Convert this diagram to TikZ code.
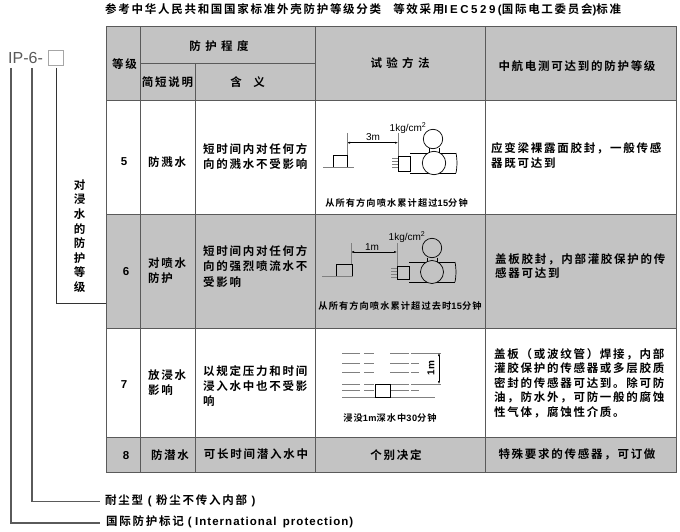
\documentclass[tikz,border=0pt]{standalone}
\usepackage{fontspec}
\setmainfont{Liberation Sans}
\newfontfamily\cjk{Noto Sans CJK SC}[BoldFont={* Bold}]
\newfontfamily\lat{Liberation Sans}
\usetikzlibrary{arrows.meta}
\definecolor{hdr}{HTML}{C3C3C3}
\definecolor{rulec}{HTML}{5A5A5A}
\newcommand{\zh}{\cjk\bfseries\addfontfeature{LetterSpace=15}}
\newcommand{\zhs}{\cjk\bfseries\addfontfeature{LetterSpace=12}}
\newcommand{\la}[2][5]{{\lat\bfseries\addfontfeature{LetterSpace=#1}#2}}
\tikzset{
  x=1pt,y=-1pt,
  cell/.style={inner sep=0pt,font=\fontsize{11.5pt}{15.5pt}\selectfont\zh,text=black,align=center},
  para/.style={inner sep=0pt,font=\fontsize{11.5pt}{15.3pt}\selectfont\zh,text=black,align=left,anchor=north west},
  ln/.style={draw=rulec,line width=.8pt},
  leader/.style={draw=rulec,line width=1.1pt},
  thinl/.style={draw=black,line width=.7pt},
  dimd/.style={draw=black,line width=.4pt,{Latex[length=3pt,width=2pt]}-{Latex[length=3pt,width=2pt]}},
  grayl/.style={draw=gray,line width=.5pt},
  small/.style={inner sep=0pt,font=\fontsize{9.2pt}{10pt}\selectfont\zhs,text=black},
  num/.style={inner sep=.5pt,font=\fontsize{11.5pt}{12pt}\selectfont\bfseries,text=black},
  dimtext/.style={inner sep=.5pt,font=\fontsize{10pt}{10pt}\selectfont,text=black}
}
\begin{document}
\begin{tikzpicture}
\useasboundingbox (0,0) rectangle (680,532);
\fill[white] (0,0) rectangle (680,532);
% fills
\fill[hdr] (106,26.5) rectangle (676.5,101);
\fill[hdr] (106,214) rectangle (676.5,328.5);
\fill[hdr] (106,437) rectangle (676.5,472);
% grid
\draw[ln,line width=1pt] (106,26.5) rectangle (676.5,472);
\foreach \y in {101,214,328.5,437}{\draw[ln,line width=1pt] (106,\y) -- (676.5,\y);}
\draw[ln] (140,63.3) -- (315.5,63.3);
\draw[ln] (140,26.5) -- (140,472);
\draw[ln] (195.5,63.3) -- (195.5,472);
\draw[ln] (315.5,26.5) -- (315.5,472);
\draw[ln] (485,26.5) -- (485,472);
% title
\node[cell,anchor=west] (title) at (105,10) {参考中华人民共和国国家标准外壳防护等级分类\hspace{1.05em}等效采用\la[22]{IEC529(}国际电工委员会\la[20]{)}标准};
% code
\node[inner sep=0pt,anchor=west,font=\fontsize{16pt}{18pt}\selectfont,text=rulec] (code) at (8,58) {IP-6-};
\node[draw=gray!70,line width=.6pt,minimum width=15pt,minimum height=15pt,inner sep=0pt] (sq) at (55.5,57.5) {};
% leaders
\coordinate (a1) at (11,68); \coordinate (a2) at (11,523); \coordinate (a3) at (100,523);
\coordinate (b1) at (32,68); \coordinate (b2) at (32,501.5); \coordinate (b3) at (100,501.5);
\coordinate (c1) at (56.5,68); \coordinate (c2) at (56.5,303.5); \coordinate (c3) at (106,303.5);
\draw[leader,line width=1.3pt] (a1) -- (a2) -- (a3);
\draw[leader] (b1) -- (b2) -- (b3);
\draw[leader,draw=black!80,line width=.8pt] (c1) -- (c2) -- (c3);
\node[cell,font=\fontsize{11.5pt}{14.6pt}\selectfont\zh,text width=14pt] (side) at (79.5,236) {对\\浸\\水\\的\\防\\护\\等\\级};
\node[cell,anchor=west] (l1) at (105,501) {耐尘型\hspace{.4em}\la{(}\hspace{.4em}粉尘不传入内部\hspace{.4em}\la{)}};
\node[cell,anchor=west] (l2) at (106,522) {国际防护标记\hspace{.35em}\la[9]{(\hspace{.3em}International\hspace{.55em}protection)}};
% header
\node[cell] (h1) at (124.5,64) {等级};
\node[cell] (h2) at (219,46) {防 护 程 度};
\node[cell] (h3) at (167.5,82) {简短说明};
\node[cell] (h4) at (247.5,82) {含\hspace{1em}义};
\node[cell] (h5) at (400,63) {试 验 方 法};
\node[cell] (h6) at (577,66) {中航电测可达到的防护等级};
% rows
\node[num] (r5) at (124,162) {5};
\node[num] (r6) at (126,272) {6};
\node[num] (r7) at (124,385) {7};
\node[num] (r8) at (126,456) {8};
\node[cell,align=left,anchor=west] (s5) at (148,162) {防溅水};
\node[cell,align=left,anchor=west] (s6) at (148,270.5) {对喷水\\防护};
\node[cell,align=left,anchor=west] (s7) at (148,382.5) {放浸水\\影响};
\node[cell] (s8) at (170,455) {防潜水};
\node[para] (m5) at (203,143) {短时间内对任何方\\向的溅水不受影响};
\node[para] (m6) at (203,245.5) {短时间内对任何方\\向的强烈喷流水不\\受影响};
\node[para] (m7) at (203,365) {以规定压力和时间\\浸入水中也不受影\\响};
\node[cell] (m8) at (256,454) {可长时间潜入水中};
\node[para,font=\fontsize{11.5pt}{15pt}\selectfont\zh] (g5) at (491,142) {应变梁裸露面胶封，一般传感\\器既可达到};
\node[para,font=\fontsize{11.5pt}{14pt}\selectfont\zh] (g6) at (495,253.5) {盖板胶封，内部灌胶保护的传\\感器可达到};
\node[para,font=\fontsize{11.5pt}{14.5pt}\selectfont\zh] (g7) at (494,348) {盖板（或波纹管）焊接，内部\\灌胶保护的传感器或多层胶质\\密封的传感器可达到。除可防\\油，防水外，可防一般的腐蚀\\性气体，腐蚀性介质。};
\node[cell] (t8) at (396,455) {个别决定};
\node[cell] (g8) at (577,454) {特殊要求的传感器，可订做};
\node[small] (cap5) at (396.5,203) {从所有方向喷水累计超过\la{15}分钟};
\node[small] (cap6) at (400,306) {从所有方向喷水累计超过去时\la{15}分钟};
\node[small] (cap7) at (390,418) {浸没\la{1m}深水中\la{30}分钟};
% figure row 5
\draw[grayl,line width=.9pt] (323,167.7) -- (354,167.7);
\draw[thinl] (333,167) |- (347,155) -- (347,167);
\coordinate (d1) at (347,142.7); \coordinate (d2) at (398,142.7);
\draw[dimd] (d1) -- (d2);
\node[dimtext] (t3m) at (373,137.5) {3m};
\draw[grayl] (347,133) -- (347,155);
\draw[grayl] (398,133) -- (398,156);
\node[dimtext,inner sep=0pt] (p5) at (408,128) {1kg/cm\textsuperscript{2}};
\draw[thinl] (398,156) rectangle (410,171);
\foreach \y in {158,161,164,167}{\draw[gray,line width=.4pt] (392,\y) -- (398,\y);}
\draw[thinl] (410,153) -- (456,153);
\draw[thinl] (410,173) -- (456,173);
\draw[thinl] (456,153) to[bend left=10] (456,173);
\draw[thinl] (433,139) circle (9.7);
\draw[thinl,fill=white] (434,163) circle (11.7);
\draw[thinl] (429,148) -- (429,153);
\draw[thinl] (439,148) -- (439,153);
% figure row 6
\draw[grayl,line width=.9pt] (322,276.7) -- (353,276.7);
\draw[thinl] (336,276) |- (352,264) -- (352,276);
\coordinate (e1) at (351,252); \coordinate (e2) at (397,252);
\draw[dimd] (e1) -- (e2);
\node[dimtext] (t1m) at (372,247.5) {1m};
\draw[grayl] (351,243) -- (351,264);
\draw[grayl] (397,243) -- (397,266);
\node[dimtext,inner sep=0pt] (p6) at (407,237) {1kg/cm\textsuperscript{2}};
\draw[thinl] (397,266) rectangle (409,279);
\foreach \y in {268,271,274,277}{\draw[gray,line width=.4pt] (391,\y) -- (397,\y);}
\draw[thinl] (409,262) -- (455,262);
\draw[thinl] (409,282) -- (455,282);
\draw[thinl] (455,262) to[bend left=10] (455,282);
\draw[thinl] (432,248) circle (9.7);
\draw[thinl,fill=hdr] (432,272) circle (11.5);
\draw[thinl] (427,257.5) -- (427,262);
\draw[thinl] (437,257.5) -- (437,262);
% figure row 7
\foreach \y in {353,363,372,384,390}{
  \draw[gray,line width=.7pt] (342,\y) -- (360,\y);
  \draw[gray,line width=.7pt] (364,\y) -- (374,\y);
  \draw[gray,line width=.7pt] (390,\y) -- (409,\y);
  \draw[gray,line width=.7pt] (411,\y) -- (419,\y);
}
\draw[gray,line width=.7pt] (419,353) -- (441,353);
\draw[gray,line width=.7pt] (419,384) -- (441,384);
\draw[gray,line width=.9pt] (342,397) -- (435,397);
\draw[thinl,fill=white] (375,384) rectangle (390,397);
\coordinate (f1) at (439,353); \coordinate (f2) at (439,384);
\draw[dimd] (f1) -- (f2);
\node[dimtext,rotate=90,font=\fontsize{10pt}{10pt}\selectfont\bfseries] (lm) at (431,368) {1m};
\end{tikzpicture}
\end{document}
